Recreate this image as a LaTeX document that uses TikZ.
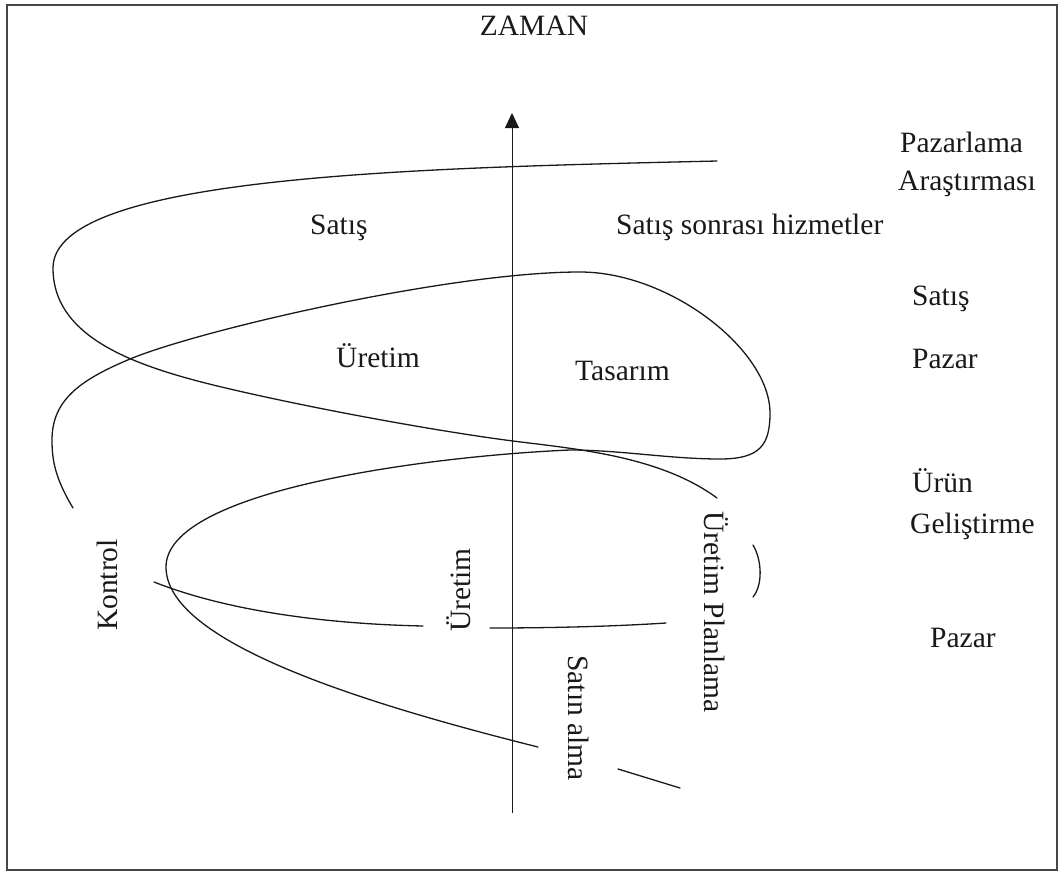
\documentclass[tikz,border=0pt]{standalone}
\usepackage{fontspec}
\setmainfont{Liberation Serif}
\usetikzlibrary{arrows.meta,positioning}
\definecolor{inkBlack}{RGB}{25,25,25}
\definecolor{frameGray}{RGB}{70,70,70}

\begin{document}
\begin{tikzpicture}[x=1pt,y=-1pt,
    lbl/.style={font=\fontsize{29.5pt}{33pt}\selectfont, text=inkBlack, inner sep=0pt},
    vlbl/.style={lbl, anchor=base},
    spiral/.style={draw=inkBlack, line width=1.3pt, line cap=round}]
    \useasboundingbox (0,0) rectangle (1061,873);
    \draw[frameGray, line width=1.2pt] (7,5) rectangle (1057,870);

    \node[lbl, anchor=base] (zaman) at (534,35) {ZAMAN};
    \coordinate (axisBot) at (512,813);
    \coordinate (axisTop) at (512,113);
    \draw[inkBlack, line width=0.9pt, -{Triangle[length=15pt,width=14pt]}] (axisBot) -- (axisTop);

    \node[lbl, anchor=base west] (pazArastirma) at (900,152) {Pazarlama};
    \node[lbl, anchor=base west] (arastirmasi) at (898,190) {Araştırması};
    \node[lbl, anchor=base west] (satisRight) at (912,305) {Satış};
    \node[lbl, anchor=base west] (pazarTop) at (912,368) {Pazar};
    \node[lbl, anchor=base west] (urun) at (912,492) {Ürün};
    \node[lbl, anchor=base west] (gelistirme) at (910,533) {Geliştirme};
    \node[lbl, anchor=base west] (pazarBot) at (930,647) {Pazar};

    \node[lbl, anchor=base west] (satisIn) at (310,234) {Satış};
    \node[lbl, anchor=base west] (satisSonra) at (616,234) {Satış sonrası hizmetler};
    \node[lbl, anchor=base west] (uretimIn) at (336,367) {Üretim};
    \node[lbl, anchor=base west] (tasarim) at (575,380) {Tasarım};

    \node[vlbl, rotate=90] (kontrol) at (117,585) {Kontrol};
    \node[vlbl, rotate=90] (uretimV) at (470,590) {Üretim};
    \node[vlbl, rotate=-90] (uretimPlan) at (704,612) {Üretim Planlama};
    \node[vlbl, rotate=-90] (satinAlma) at (568,718) {Satın alma};

    \draw[spiral] (717,161) .. controls (420,168) and (53,175) .. (53,268)
        .. controls (53,340) and (140,368) .. (230,389)
        .. controls (329,412) and (450,433) .. (513,441)
        .. controls (576,449) and (660,456) .. (717,498);
    \draw[spiral] (73,508) .. controls (55,478) and (52,460) .. (52,440)
        .. controls (52,400) and (80,380) .. (130,359)
        .. controls (200,330) and (450,272) .. (580,272)
        .. controls (670,272) and (770,350) .. (770,413)
        .. controls (770,445) and (760,459) .. (720,459)
        .. controls (670,459) and (620,450) .. (570,450)
        .. controls (430,456) and (166,490) .. (166,567)
        .. controls (166,640) and (350,700) .. (538,747);
    \draw[spiral] (753,545) .. controls (762,560) and (763,585) .. (753,597);
    \draw[spiral] (154,582) .. controls (230,612) and (330,624) .. (423,626);
    \draw[spiral] (490,628) .. controls (560,628) and (620,626) .. (666,623);
    \draw[spiral] (618,769) -- (680,788);
\end{tikzpicture}
\end{document}
